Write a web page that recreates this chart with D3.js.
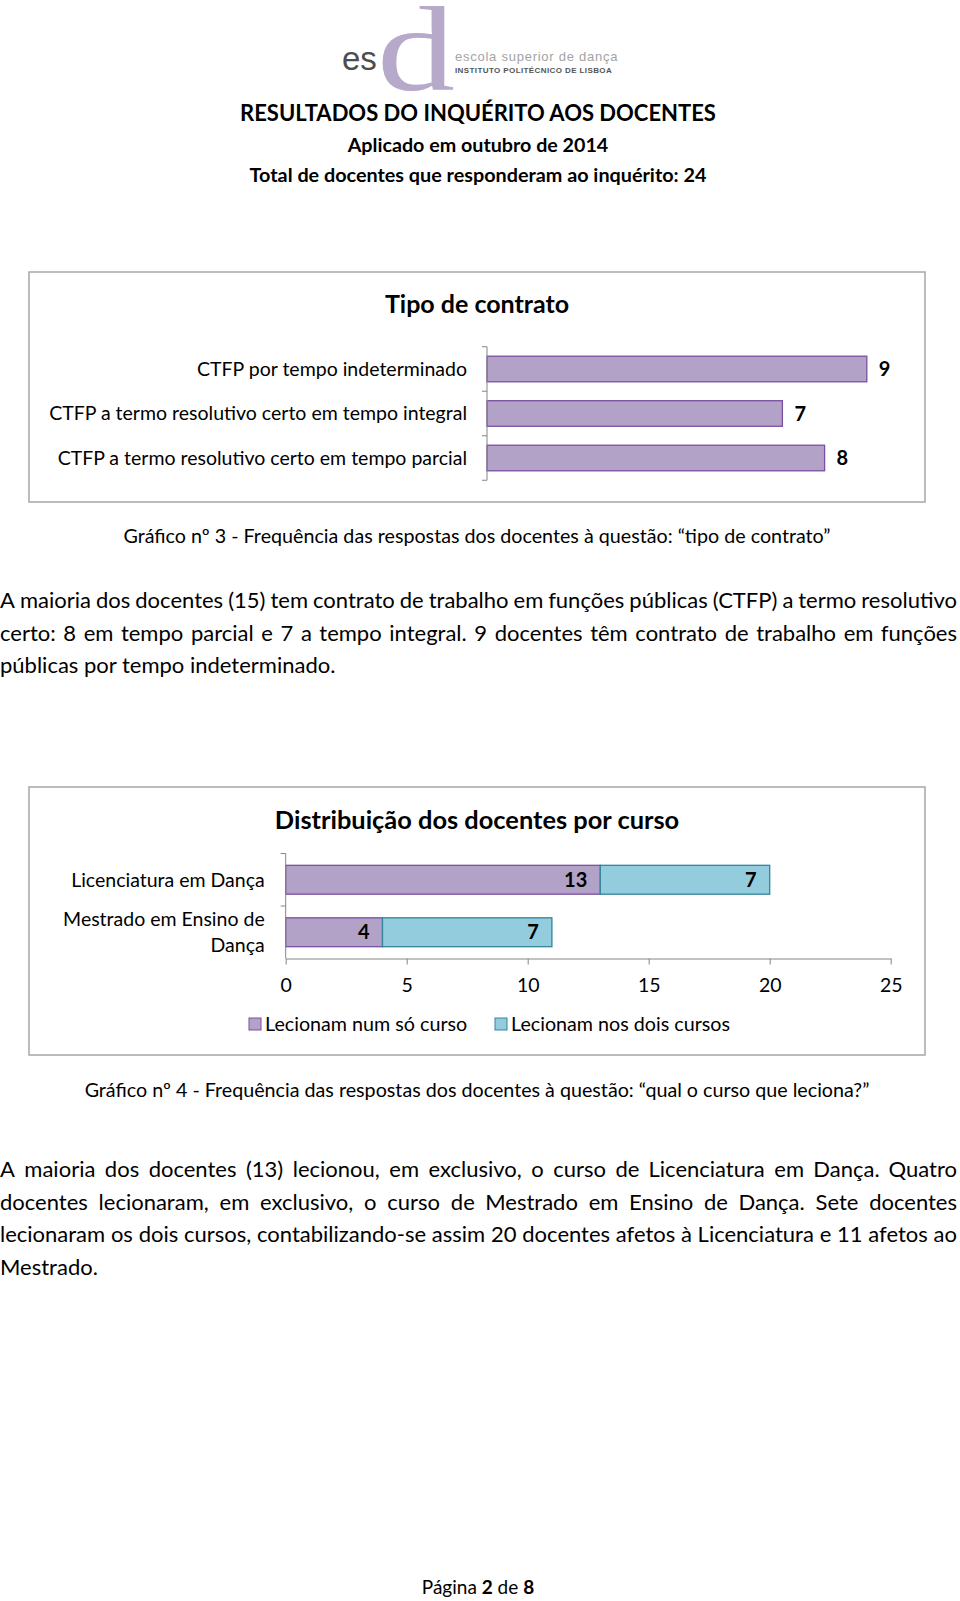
<!DOCTYPE html>
<html>
<head>
<meta charset="utf-8">
<script src="https://cdn.jsdelivr.net/npm/d3@7"></script>
<style>
  body { margin: 0; background: #fff; }
  svg { display: block; }
</style>
</head>
<body>
<script>

// ---- data ----
var headerLines = ["RESULTADOS DO INQUÉRITO AOS DOCENTES", "Aplicado em outubro de 2014", "Total de docentes que responderam ao inquérito: 24"];

var contratoTitle = "Tipo de contrato";
var contratoCats = ["CTFP por tempo indeterminado", "CTFP a termo resolutivo certo em tempo integral", "CTFP a termo resolutivo certo em tempo parcial"];
var contratoVals = [9, 7, 8];
var contratoCaption = "Gráfico nº 3 - Frequência das respostas dos docentes à questão: “tipo de contrato”";
var contratoText = [
    "A maioria dos docentes (15) tem contrato de trabalho em funções públicas (CTFP) a termo resolutivo",
    "certo: 8 em tempo parcial e 7 a tempo integral. 9 docentes têm contrato de trabalho em funções",
    "públicas por tempo indeterminado."
];

var cursoTitle = "Distribuição dos docentes por curso";
var cursoCats = ["Licenciatura em Dança", "Mestrado em Ensino de Dança"];
var seriesNames = ["Lecionam num só curso", "Lecionam nos dois cursos"];
var soUmCurso = [13, 4];
var doisCursos = [7, 7];
var cursoTicks = [0, 5, 10, 15, 20, 25];
var cursoCaption = "Gráfico nº 4 - Frequência das respostas dos docentes à questão: “qual o curso que leciona?”";
var cursoText = [
    "A maioria dos docentes (13) lecionou, em exclusivo, o curso de Licenciatura em Dança. Quatro",
    "docentes lecionaram, em exclusivo, o curso de Mestrado em Ensino de Dança. Sete docentes",
    "lecionaram os dois cursos, contabilizando-se assim 20 docentes afetos à Licenciatura e 11 afetos ao",
    "Mestrado."
];

var FONT = "Lato, 'Open Sans', sans-serif";
var purple = "#b3a2c7", purpleLine = "#7a4f9f";
var blue = "#93cddd", blueLine = "#31859c";

var svg = d3.select("body").append("svg")
    .attr("width", 960)
    .attr("height", 1601)
    .style("font-family", FONT);

svg.append("rect").attr("width", 960).attr("height", 1601).attr("fill", "#fff");

// ---- logo ----
var logo = svg.append("g");
logo.append("text")
    .attr("transform", "translate(377,90) scale(1.3,1)")
    .style("font-family", "'Liberation Serif', serif").style("font-size", "120px")
    .attr("fill", "#b7a9ca").text("d");
logo.append("text").attr("x", 342).attr("y", 70)
    .style("font-family", "'Liberation Sans', sans-serif").style("font-size", "33px")
    .attr("fill", "#4d4d4d").text("es");
logo.append("text").attr("x", 455).attr("y", 61)
    .style("font-family", "'Liberation Sans', sans-serif").style("font-size", "13px")
    .style("letter-spacing", "0.75px").attr("fill", "#a3a3a3").text("escola superior de dança");
logo.append("text").attr("x", 455).attr("y", 72.5)
    .style("font-family", "'Liberation Sans', sans-serif").style("font-size", "8px")
    .style("font-weight", "bold").style("letter-spacing", "0.4px")
    .attr("fill", "#555").text("INSTITUTO POLITÉCNICO DE LISBOA");

// ---- header ----
var headerY = [121, 152, 182];
var headerSize = [22, 19.7, 19.8];
headerLines.forEach(function(t, i){
    svg.append("text").attr("x", 478).attr("y", headerY[i])
        .attr("text-anchor", "middle")
        .style("font-size", headerSize[i] + "px").style("font-weight", "bold")
        .text(t);
});

// justified paragraph, last line left aligned
function paragraph(lines, x0, x1, y0, lh, size){
    lines.forEach(function(line, i){
        var y = y0 + i * lh;
        if (i == lines.length - 1){
            svg.append("text").attr("x", x0).attr("y", y).style("font-size", size + "px").text(line);
            return;
        }
        var words = line.split(" ");
        var t = svg.append("text").attr("y", y).style("font-size", size + "px");
        var spans = words.map(function(w){ return t.append("tspan").text(w); });
        var widths = spans.map(function(s){ return s.node().getComputedTextLength(); });
        var gap = (x1 - x0 - d3.sum(widths)) / (words.length - 1);
        var x = x0;
        spans.forEach(function(s, j){
            s.attr("x", x);
            x += widths[j] + gap;
        });
    });
}

function frame(x, y, w, h){
    svg.append("rect").attr("x", x).attr("y", y).attr("width", w).attr("height", h)
        .attr("fill", "none").attr("stroke", "#a6a6a6").attr("stroke-width", 1.5);
}

// ---- chart 1 : tipo de contrato ----
frame(29, 272, 896, 230);
svg.append("text").attr("x", 477).attr("y", 313).attr("text-anchor", "middle")
    .style("font-size", "25px").style("font-weight", "bold").text(contratoTitle);

var x1 = d3.scaleLinear().domain([0, 10]).range([487, 909]);
var y1 = d3.scaleBand().domain(contratoCats).range([346.75, 480.25]);
var barH1 = y1.step() * 0.575;

var g1 = svg.append("g");
g1.selectAll("rect.bar").data(contratoCats).join("rect")
    .attr("class", "bar")
    .attr("x", x1(0))
    .attr("y", function(d){ return y1(d) + (y1.step() - barH1) / 2; })
    .attr("width", function(d, i){ return x1(contratoVals[i]) - x1(0); })
    .attr("height", barH1)
    .attr("fill", purple).attr("stroke", purpleLine).attr("stroke-width", 1.3);

// category axis with ticks between categories
g1.append("line").attr("x1", x1(0)).attr("x2", x1(0))
    .attr("y1", y1.range()[0]).attr("y2", y1.range()[1]).attr("stroke", "#868686");
g1.selectAll("line.tk").data(contratoCats.concat(["end"])).join("line")
    .attr("class", "tk")
    .attr("x1", x1(0) - 5).attr("x2", x1(0))
    .attr("y1", function(d){ return d == "end" ? y1.range()[1] : y1(d); })
    .attr("y2", function(d){ return d == "end" ? y1.range()[1] : y1(d); })
    .attr("stroke", "#868686");

g1.selectAll("text.cat").data(contratoCats).join("text")
    .attr("class", "cat")
    .attr("x", x1(0) - 20)
    .attr("y", function(d){ return y1(d) + y1.step() / 2; })
    .attr("dy", "0.35em").attr("text-anchor", "end")
    .style("font-size", "19.5px").text(function(d){ return d; });

g1.selectAll("text.val").data(contratoVals).join("text")
    .attr("class", "val")
    .attr("x", function(d){ return x1(d) + 12; })
    .attr("y", function(d, i){ return y1(contratoCats[i]) + y1.step() / 2; })
    .attr("dy", "0.35em")
    .style("font-size", "20px").style("font-weight", "bold").text(function(d){ return d; });

svg.append("text").attr("x", 477).attr("y", 543).attr("text-anchor", "middle")
    .style("font-size", "19.7px").text(contratoCaption);

paragraph(contratoText, 0, 957, 608, 32.7, 22);

// ---- chart 2 : distribuição por curso ----
frame(29, 787, 896, 268);
svg.append("text").attr("x", 477).attr("y", 829).attr("text-anchor", "middle")
    .style("font-size", "25.4px").style("font-weight", "bold").text(cursoTitle);

var x2 = d3.scaleLinear().domain([0, 25]).range([285.7, 890.7]);
var y2 = d3.scaleBand().domain(cursoCats).range([853.5, 958.5]);
var barH2 = y2.step() * 0.55;

var stack = cursoCats.map(function(c, i){
    return [
        { cat: c, s: 0, x0: 0, x1: soUmCurso[i], v: soUmCurso[i] },
        { cat: c, s: 1, x0: soUmCurso[i], x1: soUmCurso[i] + doisCursos[i], v: doisCursos[i] }
    ];
}).flat();

var g2 = svg.append("g");
g2.selectAll("rect.seg").data(stack).join("rect")
    .attr("class", "seg")
    .attr("x", function(d){ return x2(d.x0); })
    .attr("y", function(d){ return y2(d.cat) + (y2.step() - barH2) / 2; })
    .attr("width", function(d){ return x2(d.x1) - x2(d.x0); })
    .attr("height", barH2)
    .attr("fill", function(d){ return d.s ? blue : purple; })
    .attr("stroke", function(d){ return d.s ? blueLine : purpleLine; })
    .attr("stroke-width", 1.3);

g2.selectAll("text.val").data(stack).join("text")
    .attr("class", "val")
    .attr("x", function(d){ return x2(d.x1) - 13; })
    .attr("y", function(d){ return y2(d.cat) + y2.step() / 2; })
    .attr("dy", "0.35em").attr("text-anchor", "end")
    .style("font-size", "20px").style("font-weight", "bold").text(function(d){ return d.v; });

// value axis
var xAxis = g2.append("g")
    .attr("transform", "translate(0," + y2.range()[1] + ")")
    .call(d3.axisBottom(x2).tickValues(cursoTicks).tickSize(6).tickSizeOuter(0).tickPadding(14));
xAxis.select(".domain").attr("stroke", "#868686");
xAxis.selectAll(".tick line").attr("stroke", "#868686");
xAxis.selectAll(".tick text").style("font-size", "19.5px").style("font-family", FONT).attr("fill", "#000");

// category axis
g2.append("line").attr("x1", x2(0)).attr("x2", x2(0))
    .attr("y1", y2.range()[0]).attr("y2", y2.range()[1]).attr("stroke", "#868686");
g2.selectAll("line.tk").data(cursoCats).join("line")
    .attr("class", "tk")
    .attr("x1", x2(0) - 5).attr("x2", x2(0))
    .attr("y1", function(d){ return y2(d); }).attr("y2", function(d){ return y2(d); })
    .attr("stroke", "#868686");

// wrapped category labels
g2.selectAll("text.cat").data(cursoCats).join("text")
    .attr("class", "cat")
    .attr("text-anchor", "end")
    .style("font-size", "19.5px")
    .each(function(d){
        var t = d3.select(this);
        var words = d.split(" "), lines = [], cur = [];
        words.forEach(function(w){
            var test = cur.concat([w]).join(" ");
            t.text(test);
            if (cur.length && this.getComputedTextLength() > 215){
                lines.push(cur.join(" "));
                cur = [w];
            } else cur.push(w);
        }, this);
        lines.push(cur.join(" "));
        t.text(null);
        var cy = y2(d) + y2.step() / 2;
        var lh = 26.5;
        lines.forEach(function(l, k){
            t.append("tspan").attr("x", x2(0) - 21)
                .attr("y", cy + (k - (lines.length - 1) / 2) * lh)
                .attr("dy", "0.35em").text(l);
        });
    });

// legend
var leg = svg.append("g");
var legX = [249, 495];
seriesNames.forEach(function(n, i){
    leg.append("rect").attr("x", legX[i]).attr("y", 1018).attr("width", 12).attr("height", 12)
        .attr("fill", i ? blue : purple).attr("stroke", i ? blueLine : purpleLine);
    leg.append("text").attr("x", legX[i] + 16).attr("y", 1024).attr("dy", "0.35em")
        .style("font-size", "19.7px").text(n);
});

svg.append("text").attr("x", 477).attr("y", 1097).attr("text-anchor", "middle")
    .style("font-size", "19.7px").text(cursoCaption);

paragraph(cursoText, 0, 957, 1177, 32.7, 22);

// ---- footer ----
var foot = svg.append("text").attr("x", 478).attr("y", 1594).attr("text-anchor", "middle")
    .style("font-size", "19px");
foot.append("tspan").text("Página ");
foot.append("tspan").style("font-weight", "bold").text("2");
foot.append("tspan").text(" de ");
foot.append("tspan").style("font-weight", "bold").text("8");

</script>
</body>
</html>
